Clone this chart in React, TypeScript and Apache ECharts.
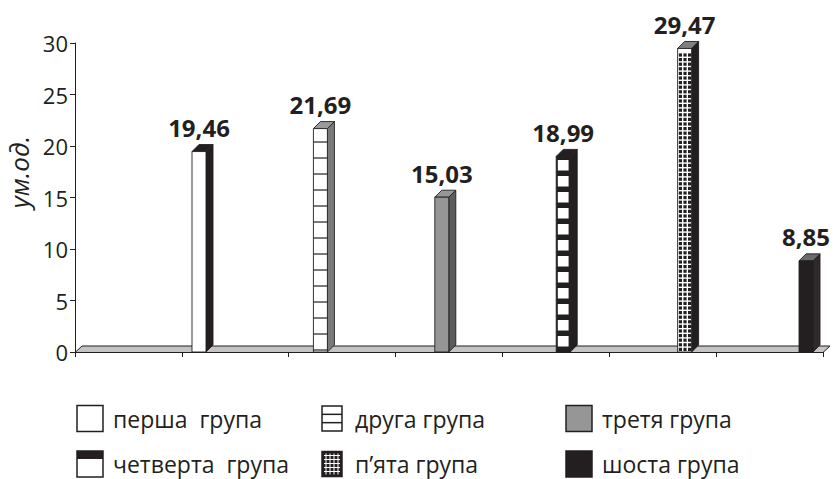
import React, { useEffect, useRef } from "react";
import * as echarts from "echarts";

// Groups and their values (ум.од.)
const GROUPS = ["перша  група", "друга група", "третя група", "четверта  група", "п’ята група", "шоста група"];
const VALUES = [19.46, 21.69, 15.03, 18.99, 29.47, 8.85];
const Y_MIN = 0;
const Y_MAX = 30;
const Y_STEP = 5;
// Floor divisions drawn as ticks under the bars
const FLOOR_SLOTS = ["", "", "", "", "", "", ""];
const Y_NAME = "ум.од.";

const INK = "#231f20";
const FONT = "'Open Sans', 'Noto Sans', sans-serif";

type Pattern = "none" | "hlines" | "bands" | "grid";
const BAR_STYLES: { front: string; side: string; top: string; pattern: Pattern }[] = [
  { front: "#ffffff", side: INK, top: INK, pattern: "none" },
  { front: "#ffffff", side: "#7a7a7a", top: "#9a9a9a", pattern: "hlines" },
  { front: "#969696", side: "#5c5c5c", top: "#969696", pattern: "none" },
  { front: "#ffffff", side: INK, top: INK, pattern: "bands" },
  { front: "#ffffff", side: INK, top: "#808080", pattern: "grid" },
  { front: INK, side: "#2e2a2b", top: "#6b6b6b", pattern: "none" },
];

// plot frame
const PLOT_LEFT = 75;
const PLOT_TOP = 43;
const PLOT_W = 748;
const PLOT_H = 309;
// bar lane frame: a value axis running from one slot before the first bar
const BAR_LEFT = 77.6;
const BAR_W = 752.7;
const BAR_X_MIN = -1;
const BAR_X_MAX = 5.2;
// 3D extrusion
const FRONT_W = 14;
const DX = 7;
const DY = -7;

const fmt = (v: number) => v.toFixed(2).replace(".", ",");

function frontPattern(kind: Pattern, x: number, top: number, base: number) {
  const out: any[] = [];
  if (kind === "hlines") {
    for (let y = base - 2; y > top + 4; y -= 16) {
      out.push({ type: "line", shape: { x1: x, y1: y, x2: x + FRONT_W, y2: y }, style: { stroke: INK, lineWidth: 1.2 } });
    }
  } else if (kind === "bands") {
    for (let yb = base - 5.5; yb - 10.5 > top + 2; yb -= 16) {
      out.push({ type: "rect", shape: { x: x + 1.6, y: yb - 10.5, width: FRONT_W - 3.2, height: 10.5 }, style: { fill: "#ffffff" } });
    }
  } else if (kind === "grid") {
    const s = 3.2;
    const p = 4.6;
    for (let yb = base - 1; yb - s >= top + 1; yb -= p) {
      for (let c = 0; c < 3; c++) {
        out.push({ type: "rect", shape: { x: x + 1.2 + c * p, y: yb - s, width: s, height: s }, style: { fill: INK } });
      }
    }
  }
  return out;
}

function renderBar(params: any, api: any) {
  const idx = api.value(0);
  const v = api.value(1);
  const topC = api.coord([idx, v]);
  const baseC = api.coord([idx, 0]);
  const x = topC[0] - FRONT_W / 2;
  const top = topC[1];
  const base = baseC[1];
  const st = BAR_STYLES[params.dataIndex];
  const lw = 0.9;
  const frontFill = st.pattern === "bands" ? INK : st.front;
  const children: any[] = [
    {
      type: "polygon",
      shape: { points: [[x + FRONT_W, top], [x + FRONT_W + DX, top + DY], [x + FRONT_W + DX, base + DY], [x + FRONT_W, base]] },
      style: { fill: st.side, stroke: INK, lineWidth: lw },
    },
    {
      type: "polygon",
      shape: { points: [[x, top], [x + DX, top + DY], [x + FRONT_W + DX, top + DY], [x + FRONT_W, top]] },
      style: { fill: st.top, stroke: INK, lineWidth: lw },
    },
    {
      type: "rect",
      shape: { x, y: top, width: FRONT_W, height: base - top },
      style: { fill: frontFill, stroke: INK, lineWidth: lw },
    },
    ...frontPattern(st.pattern, x, top, base),
    {
      type: "text",
      x: topC[0],
      y: top - 24,
      style: {
        text: fmt(v),
        fill: INK,
        fontSize: 24,
        fontWeight: "bold",
        fontFamily: FONT,
        align: "center",
        verticalAlign: "middle",
      },
    },
  ];
  return { type: "group", children };
}

// legend layout
const LEG_ICON_X = [77, 322, 566];
const LEG_ICON_W = [26, 20, 26];
const LEG_ICON_H = [26, 25, 26];
const LEG_TEXT_X = [113, 355, 602];
const LEG_ROW_Y = [418.5, 464];

function legendIcon(i: number) {
  const col = i % 3;
  const row = Math.floor(i / 3);
  const w = LEG_ICON_W[col];
  const h = LEG_ICON_H[col];
  const x = LEG_ICON_X[col];
  const y = LEG_ROW_Y[row] - h / 2;
  const st = BAR_STYLES[i];
  const kids: any[] = [];
  if (st.pattern === "grid") {
    kids.push({ type: "rect", shape: { x, y, width: w, height: h }, style: { fill: INK } });
    for (let gx = x + 4; gx < x + w - 1; gx += 4) {
      kids.push({ type: "line", shape: { x1: gx, y1: y + 2, x2: gx, y2: y + h - 2 }, style: { stroke: "#ffffff", lineWidth: 1 } });
    }
    for (let gy = y + 4; gy < y + h - 1; gy += 4) {
      kids.push({ type: "line", shape: { x1: x + 2, y1: gy, x2: x + w - 2, y2: gy }, style: { stroke: "#ffffff", lineWidth: 1 } });
    }
    kids.push({ type: "rect", shape: { x, y, width: w, height: h }, style: { fill: "none", stroke: INK, lineWidth: 1.5 } });
  } else {
    kids.push({ type: "rect", shape: { x, y, width: w, height: h }, style: { fill: st.front, stroke: INK, lineWidth: 1.5 } });
    if (st.pattern === "hlines") {
      [1, 2].forEach((k) => {
        const ly = y + (h * k) / 3;
        kids.push({ type: "line", shape: { x1: x, y1: ly, x2: x + w, y2: ly }, style: { stroke: INK, lineWidth: 1.5 } });
      });
    } else if (st.pattern === "bands") {
      kids.push({ type: "rect", shape: { x, y, width: w, height: 8 }, style: { fill: INK } });
    }
  }
  kids.push({
    type: "text",
    x: LEG_TEXT_X[col],
    y: LEG_ROW_Y[row],
    style: { text: GROUPS[i], fill: INK, fontSize: 23, fontFamily: FONT, align: "left", verticalAlign: "middle" },
  });
  return { type: "group", children: kids };
}

export default function App() {
  const ref = useRef<HTMLDivElement>(null);
  useEffect(() => {
    if (!ref.current) return;
    const chart = echarts.init(ref.current, null, { renderer: "svg" });
    const floorBase = PLOT_TOP + PLOT_H + 0.5;
    chart.setOption({
      animation: false,
      backgroundColor: "#ffffff",
      grid: [
        { left: PLOT_LEFT, top: PLOT_TOP, width: PLOT_W, height: PLOT_H },
        { left: BAR_LEFT, top: PLOT_TOP, width: BAR_W, height: PLOT_H },
      ],
      xAxis: [
        {
          gridIndex: 0,
          type: "category",
          data: FLOOR_SLOTS,
          boundaryGap: true,
          axisLine: { show: false },
          axisTick: { show: true, length: 5, lineStyle: { color: INK, width: 1 } },
          axisLabel: { show: false },
        },
        { gridIndex: 1, type: "value", min: BAR_X_MIN, max: BAR_X_MAX, show: false },
      ],
      yAxis: [
        {
          gridIndex: 0,
          type: "value",
          min: Y_MIN,
          max: Y_MAX,
          interval: Y_STEP,
          axisLine: { show: true, lineStyle: { color: INK, width: 1 } },
          axisTick: { show: true, length: 5, lineStyle: { color: INK, width: 1 } },
          axisLabel: { fontSize: 22, fontFamily: FONT, color: INK, margin: 7 },
          splitLine: { show: false },
        },
        { gridIndex: 1, type: "value", min: Y_MIN, max: Y_MAX, show: false },
      ],
      graphic: [
        {
          type: "polygon",
          z: 1,
          shape: {
            points: [
              [PLOT_LEFT, floorBase],
              [PLOT_LEFT + DX, floorBase - 6.5],
              [PLOT_LEFT + PLOT_W + DX, floorBase - 6.5],
              [PLOT_LEFT + PLOT_W, floorBase],
            ],
          },
          style: { fill: "#c4c4c4", stroke: INK, lineWidth: 1 },
        },
        {
          type: "text",
          x: 19,
          y: 172,
          rotation: Math.PI / 2,
          style: {
            text: Y_NAME,
            fill: INK,
            fontSize: 26,
            fontStyle: "italic",
            fontFamily: FONT,
            align: "center",
            verticalAlign: "middle",
          },
        },
        ...GROUPS.map((_, i) => legendIcon(i)),
      ],
      series: [
        {
          type: "custom",
          xAxisIndex: 1,
          yAxisIndex: 1,
          z: 3,
          data: VALUES.map((v, i) => [i, v]),
          encode: { x: 0, y: 1 },
          renderItem: renderBar,
        },
      ],
    });
    return () => chart.dispose();
  }, []);
  return <div ref={ref} style={{ position: "fixed", left: 0, top: 0, width: 834, height: 479 }} />;
}
